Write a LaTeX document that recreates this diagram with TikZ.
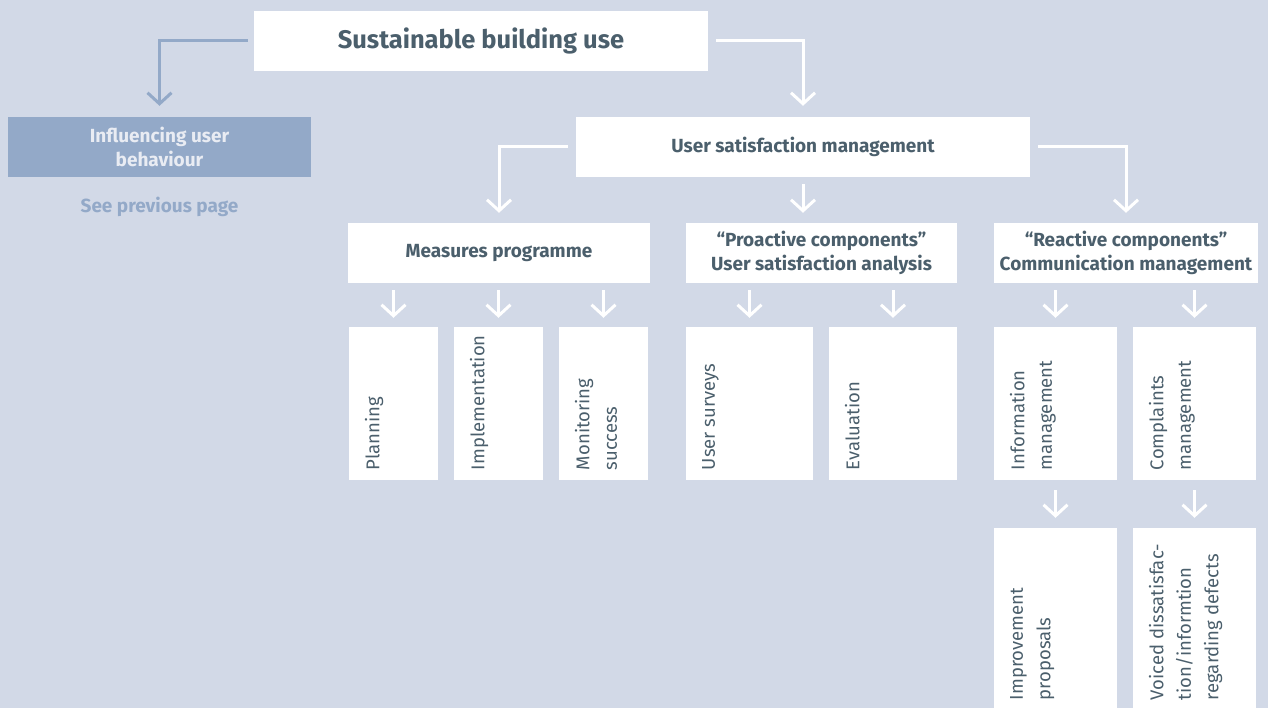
\documentclass[tikz,border=0pt]{standalone}
\usepackage{fontspec}
\setmainfont{Fira Sans}
\usetikzlibrary{arrows.meta,calc,positioning}
\definecolor{bgblue}{HTML}{D2D9E7}
\definecolor{midblue}{HTML}{93A9C8}
\definecolor{textgrey}{HTML}{4B5F6C}

\tikzset{
  box/.style={fill=white, inner sep=0pt, text=textgrey, align=center,
    font=\fontsize{19}{24}\selectfont\bfseries},
  subbox/.style={fill=white, inner sep=0pt},
  vtext/.style={rotate=90, anchor=north west, inner sep=0pt, text=textgrey,
    align=left, font=\fontsize{18.5}{27.5}\selectfont},
  flow/.style={draw=white, line width=3pt,
    -{Straight Barb[length=11pt,width=24pt]}},
}

\begin{document}
\begin{tikzpicture}[x=1pt,y=-1pt]
  \fill[bgblue] (0,0) rectangle (1268,708);
  \useasboundingbox (0,0) rectangle (1268,708);

  % top row
  \node[box, font=\fontsize{25.5}{28}\selectfont\bfseries,
        minimum width=454pt, minimum height=60pt] (sbu) at (481,41) {Sustainable building use};
  \node[box, fill=midblue, text=bgblue!50!white,
        minimum width=303pt, minimum height=60pt] (iub) at (159.5,147) {Influencing user\\behaviour};
  \node[text=midblue, inner sep=0pt, font=\fontsize{19}{24}\selectfont\bfseries] (prev) at (159.5,207) {See previous page};
  \node[box, minimum width=454pt, minimum height=60pt] (usm) at (803,147) {User satisfaction management};

  % second row
  \node[box, minimum width=302pt, minimum height=60pt] (mp) at (499,253) {Measures programme};
  \node[box, minimum width=271pt, minimum height=60pt] (pc) at (821.5,253) {“Proactive components”\\User satisfaction analysis};
  \node[box, minimum width=264pt, minimum height=60pt] (rc) at (1126,253) {“Reactive components”\\Communication management};

  \draw[flow, draw=midblue] ([xshift=-6pt]sbu.west) -| ([yshift=11pt]iub.north);
  \draw[flow] ([xshift=8pt]sbu.east) -| ([yshift=11pt]usm.north);
  \draw[flow] ([xshift=-8pt]usm.west) -| ([yshift=10pt]mp.north);
  \draw[flow] ([yshift=-7pt]usm.south) -- ([yshift=10pt]usm.south |- pc.north);
  \draw[flow] ([xshift=8pt]usm.east) -| ([yshift=10pt]rc.north);

  % third row
  \foreach \nm/\cx/\bw/\txt in {plan/393.5/89/Planning, impl/498.5/89/Implementation,
      moni/603.5/89/{Monitoring\\success}, surv/749.5/127/User surveys,
      eval/893/128/Evaluation, info/1055.5/123/{Information\\management},
      comp/1194.5/123/{Complaints\\management}}{
    \node[subbox, minimum width=\bw pt, minimum height=153pt] (\nm) at (\cx,403.5) {};
    \node[vtext] (\nm-txt) at ($(\nm.south west)+(16,-10)$) {\txt};
    \draw[flow] ($(\nm.north)+(0,-37)$) -- ($(\nm.north)+(0,-9)$);
  }

  % fourth row
  \foreach \nm/\cx/\txt in {impr/1055.5/{Improvement\\proposals},
      voic/1194.5/{Voiced dissatisfac-\\tion/informtion\\regarding defects}}{
    \node[subbox, minimum width=123pt, minimum height=180pt] (\nm) at (\cx,618) {};
    \node[vtext] (\nm-txt) at ($(\nm.south west)+(16,-8)$) {\txt};
    \draw[flow] ($(\nm.north)+(0,-38)$) -- ($(\nm.north)+(0,-10)$);
  }
\end{tikzpicture}
\end{document}
